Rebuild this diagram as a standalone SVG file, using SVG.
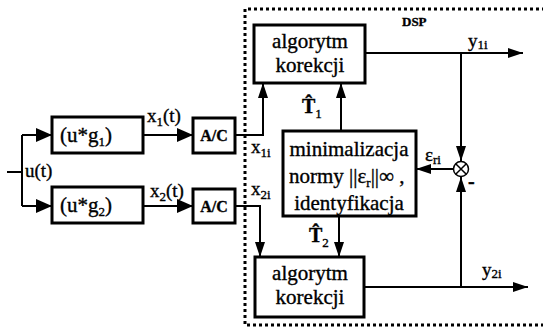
<svg xmlns="http://www.w3.org/2000/svg" width="543" height="328" viewBox="0 0 543 328">
  <defs>
    <marker id="arr" viewBox="0 0 15 10" refX="15" refY="5" markerWidth="15" markerHeight="10" markerUnits="userSpaceOnUse" orient="auto">
      <path d="M0,0 L15,5 L0,10 Z" fill="#000"/>
    </marker>
    <marker id="arrL" viewBox="0 0 16 14" refX="16" refY="7" markerWidth="16" markerHeight="14" markerUnits="userSpaceOnUse" orient="auto">
      <path d="M0,0 L16,7 L0,14 Z" fill="#000"/>
    </marker>
    <style>
      .box { fill: #fff; stroke: #000; stroke-width: 3; }
      .ln { fill: none; stroke: #000; stroke-width: 2; }
      .ar { fill: none; stroke: #000; stroke-width: 2; marker-end: url(#arr); }
      .arL { fill: none; stroke: #000; stroke-width: 2; marker-end: url(#arrL); }
      text { font-family: 'Liberation Serif', 'DejaVu Serif', serif; fill: #000; stroke: #000; stroke-width: 0.35; }
      .big { font-size: 21px; }
      .lbl { font-size: 19px; }
      .sub { font-size: 13px; }
    </style>
  </defs>
  <rect width="543" height="328" fill="#fff"/>

  <!-- DSP boundary -->
  <g id="dsp">
    <path d="M545,9 H245 V325 H545" fill="none" stroke="#000" stroke-width="3" stroke-dasharray="3,3"/>
    <text x="402" y="26" font-size="13" font-weight="bold">DSP</text>
  </g>

  <!-- connectors -->
  <g id="connectors">
    <path class="ln" d="M7,172 H22 M22,135 V206"/>
    <path class="arL" d="M22,135 H52"/>
    <path class="arL" d="M22,206 H52"/>
    <path class="arL" d="M143,135 H193"/>
    <path class="arL" d="M143,206 H193"/>
    <path class="ar" d="M235,135 H263 V83"/>
    <path class="ar" d="M235,206 H260 V257"/>
    <path class="ar" d="M341,131 V83"/>
    <path class="ar" d="M339,216 V257"/>
    <path class="ar" d="M365,53 H523"/>
    <path class="ar" d="M364,287 H528"/>
    <path class="ar" d="M461,53 V161"/>
    <path class="ar" d="M461,287 V177"/>
    <path class="ar" d="M453,169 H416"/>
  </g>

  <!-- signal labels -->
  <g id="labels">
    <text class="lbl" x="25" y="177">u(t)</text>
    <text class="lbl" x="147" y="122">x<tspan class="sub" dy="4">1</tspan><tspan dy="-4">(t)</tspan></text>
    <text class="lbl" x="150" y="197">x<tspan class="sub" dy="4">2</tspan><tspan dy="-4">(t)</tspan></text>
    <text class="lbl" x="251" y="153">x<tspan class="sub" dy="4">1i</tspan></text>
    <text class="lbl" x="251" y="195">x<tspan class="sub" dy="4">2i</tspan></text>
    <text x="302" y="113" font-size="20" font-weight="bold">T&#x302;<tspan class="sub" font-weight="normal" dy="5">1</tspan></text>
    <text x="309" y="242" font-size="20" font-weight="bold">T&#x302;<tspan class="sub" font-weight="normal" dy="5">2</tspan></text>
    <text class="lbl" x="468" y="47">y<tspan class="sub" dy="2">1i</tspan></text>
    <text class="lbl" x="482" y="276">y<tspan class="sub" dy="2">2i</tspan></text>
    <text class="lbl" x="425" y="161">ε<tspan class="sub" dy="3">ri</tspan></text>
    <text x="468" y="188" font-size="20" font-weight="bold">-</text>
  </g>

  <!-- blocks -->
  <g id="g1">
    <rect class="box" x="52" y="117" width="91" height="36"/>
    <text class="big" x="60" y="142">(u*g<tspan class="sub" dy="4">1</tspan><tspan dy="-4">)</tspan></text>
  </g>
  <g id="g2">
    <rect class="box" x="52" y="187" width="91" height="36"/>
    <text class="big" x="60" y="212">(u*g<tspan class="sub" dy="4">2</tspan><tspan dy="-4">)</tspan></text>
  </g>
  <g id="ac1">
    <rect class="box" x="193" y="118" width="42" height="35"/>
    <text x="214" y="141" font-size="16" font-weight="bold" text-anchor="middle">A/C</text>
  </g>
  <g id="ac2">
    <rect class="box" x="193" y="189" width="42" height="34"/>
    <text x="214" y="212" font-size="16" font-weight="bold" text-anchor="middle">A/C</text>
  </g>
  <g id="kor1">
    <rect class="box" x="254" y="25" width="111" height="58"/>
    <text class="big" x="310" y="48" text-anchor="middle">algorytm</text>
    <text class="big" x="310" y="72" text-anchor="middle">korekcji</text>
  </g>
  <g id="kor2">
    <rect class="box" x="255" y="257" width="109" height="60"/>
    <text class="big" x="310" y="280" text-anchor="middle">algorytm</text>
    <text class="big" x="310" y="304" text-anchor="middle">korekcji</text>
  </g>
  <g id="min">
    <rect class="box" x="283" y="131" width="133" height="85"/>
    <text class="big" x="349" y="156" text-anchor="middle">minimalizacja</text>
    <text class="big" x="289" y="183">normy ||ε<tspan class="sub" dy="4">r</tspan><tspan dy="-4">||∞ ,</tspan></text>
    <text class="big" x="349" y="210" text-anchor="middle">identyfikacja</text>
  </g>
  <g id="sum">
    <circle cx="461" cy="169" r="7.5" fill="#fff" stroke="#000" stroke-width="1.5"/>
    <path d="M455.7,163.7 L466.3,174.3 M466.3,163.7 L455.7,174.3" stroke="#000" stroke-width="1.5"/>
  </g>
</svg>
